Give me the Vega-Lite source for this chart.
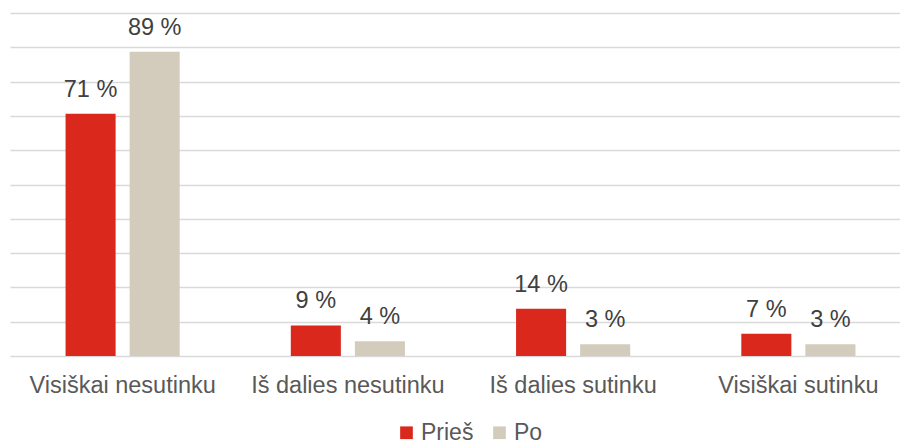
{
  "$schema": "https://vega.github.io/schema/vega-lite/v6.json",
  "width": 890,
  "height": 343,
  "autosize": {"type": "none"},
  "padding": {"left": 10, "top": 13, "right": 0, "bottom": 90},
  "background": "#ffffff",
  "config": {
    "view": {"stroke": null},
    "font": "Liberation Sans"
  },
  "data": {
    "values": [
      {"category": "Visiškai nesutinku", "series": "Prieš", "value": 70.6, "label": "71 %"},
      {"category": "Visiškai nesutinku", "series": "Po", "value": 88.7, "label": "89 %"},
      {"category": "Iš dalies nesutinku", "series": "Prieš", "value": 8.9, "label": "9 %"},
      {"category": "Iš dalies nesutinku", "series": "Po", "value": 4.3, "label": "4 %"},
      {"category": "Iš dalies sutinku", "series": "Prieš", "value": 13.8, "label": "14 %"},
      {"category": "Iš dalies sutinku", "series": "Po", "value": 3.4, "label": "3 %"},
      {"category": "Visiškai sutinku", "series": "Prieš", "value": 6.5, "label": "7 %"},
      {"category": "Visiškai sutinku", "series": "Po", "value": 3.4, "label": "3 %"}
    ]
  },
  "encoding": {
    "x": {
      "field": "category",
      "type": "nominal",
      "sort": ["Visiškai nesutinku", "Iš dalies nesutinku", "Iš dalies sutinku", "Visiškai sutinku"],
      "scale": {"paddingInner": 0, "paddingOuter": 0, "range": [0, 901]},
      "axis": {
        "title": null,
        "labelAngle": 0,
        "labelFontSize": 23.5,
        "labelColor": "#595959",
        "labelBaseline": "alphabetic",
        "labelPadding": 36,
        "labelLimit": 0,
        "ticks": false,
        "tickSize": 0,
        "domain": false,
        "labelFont": "Liberation Sans"
      }
    },
    "xOffset": {
      "field": "series",
      "type": "nominal",
      "sort": ["Prieš", "Po"],
      "scale": {"paddingInner": 0.21875, "paddingOuter": 0.867}
    },
    "y": {
      "field": "value",
      "type": "quantitative",
      "scale": {"domain": [0, 100], "nice": false},
      "axis": {
        "title": null,
        "labels": false,
        "ticks": false,
        "tickSize": 0,
        "domain": false,
        "grid": true,
        "gridColor": "#d9d9d9",
        "gridWidth": 1.4,
        "values": [0, 10, 20, 30, 40, 50, 60, 70, 80, 90, 100]
      }
    }
  },
  "layer": [
    {
      "mark": {"type": "bar"},
      "encoding": {
        "color": {
          "field": "series",
          "type": "nominal",
          "scale": {"domain": ["Prieš", "Po"], "range": ["#da291c", "#d3ccbd"]},
          "legend": {
            "title": null,
            "orient": "none",
            "direction": "horizontal",
            "legendX": 385,
            "legendY": 408,
            "symbolType": "square",
            "symbolSize": 161,
            "symbolStrokeWidth": 0,
            "labelFontSize": 23,
            "labelColor": "#595959",
            "labelFont": "Liberation Sans",
            "labelOffset": 3,
            "columnPadding": 14,
            "padding": 0
          }
        }
      }
    },
    {
      "mark": {
        "type": "text",
        "dy": -17,
        "baseline": "alphabetic",
        "fontSize": 23.5,
        "color": "#404040",
        "font": "Liberation Sans"
      },
      "encoding": {
        "text": {"field": "label", "type": "nominal"}
      }
    }
  ]
}
